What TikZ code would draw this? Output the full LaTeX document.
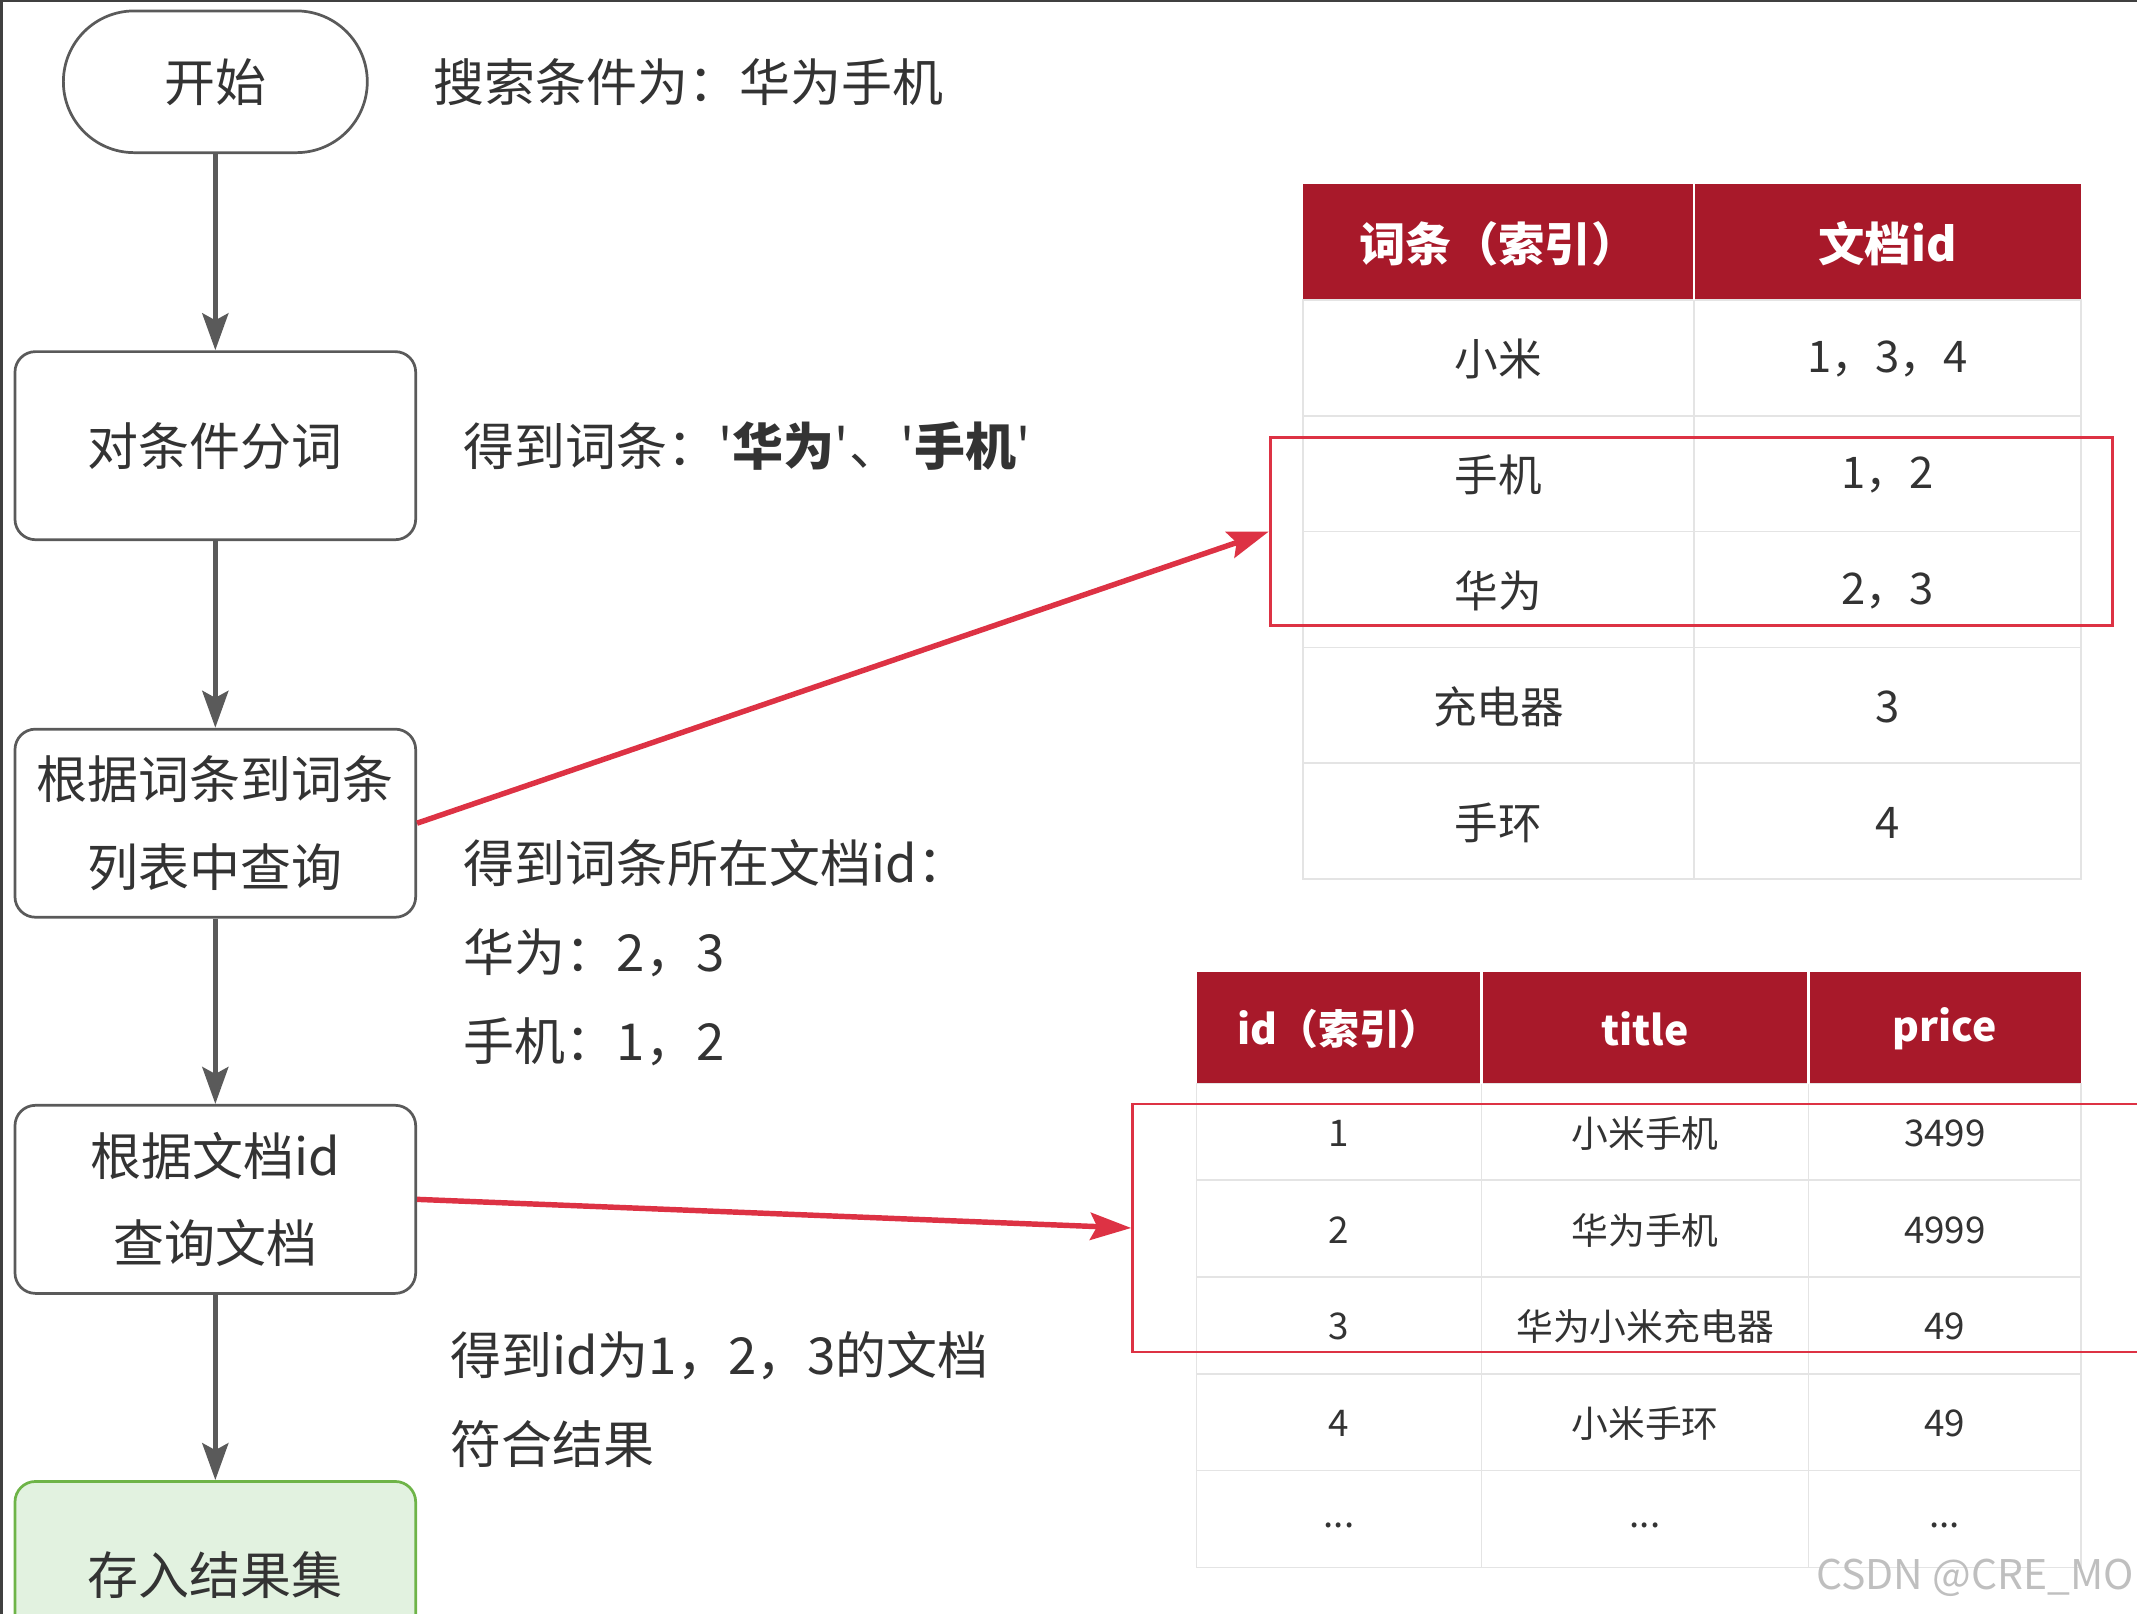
\documentclass[tikz,border=0pt]{standalone}
\usepackage{fontspec}
\setmainfont{Noto Sans CJK SC}[Ligatures=TeXOff]
\usetikzlibrary{arrows.meta,positioning}

\definecolor{hdrred}{RGB}{168,25,42}
\definecolor{hlred}{RGB}{221,50,68}
\definecolor{flowgray}{RGB}{90,90,90}
\definecolor{gridgray}{RGB}{228,228,228}
\definecolor{okfill}{RGB}{226,242,224}
\definecolor{okline}{RGB}{110,180,72}
\definecolor{txt}{RGB}{51,51,51}

\tikzset{
  flowbox/.style={draw=flowgray, line width=1pt, rounded corners=7.5pt, minimum width=147pt,
    minimum height=69pt, align=center, text=txt, font=\fontsize{18.7}{32}\selectfont},
  flowarrow/.style={draw=flowgray, line width=2pt, -{Stealth[length=13.5pt,width=9.5pt,inset=2.5pt]}},
  hlarrow/.style={draw=hlred, line width=2pt, -{Stealth[length=15pt,width=10pt,inset=2.5pt]}},
  hlbox/.style={draw=hlred, line width=1pt, inner sep=0pt},
  note/.style={anchor=west, inner sep=0pt, align=left, text=txt, font=\fontsize{18.7}{32.5}\selectfont},
  grid/.style={draw=gridgray, line width=0.6pt},
  hdr/.style={text=white, font=\bfseries\fontsize{17}{20}\selectfont},
  hdrsmall/.style={text=white, font=\bfseries\fontsize{15}{18}\selectfont},
  cell/.style={text=txt, font=\fontsize{16}{19}\selectfont},
  cellsmall/.style={text=txt, font=\fontsize{13.5}{16}\selectfont}
}

\begin{document}
\begin{tikzpicture}[x=0.5pt,y=-0.5pt]
\useasboundingbox (0,0) rectangle (1568,1184);
\clip (0,0) rectangle (1568,1184);

%rob zaslonske slike
\draw[black!75, line width=1.5pt] (1,0) -- (1,1184);
\draw[black!75, line width=1pt] (0,0.5) -- (1568,0.5);

%diagram poteka
\node[flowbox, rounded corners=26pt, minimum width=111.5pt, minimum height=52pt] (start) at (158,60) {开始};
\node[flowbox, below=72pt of start] (split) {对条件分词};
\node[flowbox, below=68.5pt of split] (lookup) {根据词条到词条\\列表中查询};
\node[flowbox, below=68pt of lookup] (fetch) {根据文档id\\查询文档};
\node[flowbox, below=68pt of fetch, fill=okfill, draw=okline] (collect) {存入结果集};

\draw[flowarrow] (start) -- (split);
\draw[flowarrow] (split) -- (lookup);
\draw[flowarrow] (lookup) -- (fetch);
\draw[flowarrow] (fetch) -- (collect);

%opombe
\node[note] (cond) at (318,60) {搜索条件为：华为手机};
\node[note] (terms) at (340,327) {得到词条：'\textbf{华为}'、'\textbf{手机}'};
\node[note] (idsnote) at (340,699) {得到词条所在文档id：\\华为：2，3\\手机：1，2};
\node[note] (resnote) at (330,1027) {得到id为1，2，3的文档\\符合结果};

%tabela besed
\fill[hdrred] (956,135) rectangle (1527,220);
\draw[grid] (956,220) rectangle (1527,645);
\draw[grid] (1243,220) -- (1243,645);
\foreach \y in {305,390,475,560} \draw[grid] (956,\y) -- (1527,\y);
\draw[white, line width=1pt] (1243,135) -- (1243,220);
\node[hdr] (termhdr) at (1099.5,179) {词条（索引）};
\node[hdr] (idhdr) at (1385,179) {文档id};
\foreach \term/\ids [count=\i] in {小米/{1，3，4}, 手机/{1，2}, 华为/{2，3}, 充电器/3, 手环/4} {
  \node[cell] (term\i) at (1099.5,178.5+85*\i) {\term};
  \node[cell] (ids\i) at (1385,178.5+85*\i) {\ids};
}

%tabela dokumentov
\fill[hdrred] (878,713) rectangle (1527,795);
\draw[grid] (878,795) rectangle (1527,1150);
\draw[grid] (1087,795) -- (1087,1150);
\draw[grid] (1327,795) -- (1327,1150);
\foreach \y in {866,937,1008,1079} \draw[grid] (878,\y) -- (1527,\y);
\draw[white, line width=1pt] (1087,713) -- (1087,795);
\draw[white, line width=1pt] (1327,713) -- (1327,795);
\node[hdrsmall] (dochdr) at (982.5,755) {id（索引）};
\node[hdrsmall] (titlehdr) at (1207,755) {title};
\node[hdrsmall] (pricehdr) at (1427,755) {price};
\foreach \id/\title/\price [count=\i] in {1/小米手机/3499, 2/华为手机/4999, 3/华为小米充电器/49, 4/小米手环/49} {
  \node[cellsmall] (doc\i) at (982.5,760.5+71*\i) {\id};
  \node[cellsmall] (title\i) at (1207,760.5+71*\i) {\title};
  \node[cellsmall] (price\i) at (1427,760.5+71*\i) {\price};
}
\node[cellsmall] (doc5) at (982.5,1119) {...};
\node[cellsmall] (title5) at (1207,1119) {...};
\node[cellsmall] (price5) at (1427,1119) {...};

%oznacbe zadetkov
\node[hlbox, minimum width=309pt, minimum height=69pt] (hl1) at (1241,390) {};
\node[hlbox, minimum width=380pt, minimum height=91pt] (hl2) at (1211,901) {};
\draw[hlarrow] (lookup.east) -- (hl1.west);
\draw[hlarrow] (fetch.east) -- (hl2.west);

%vodni znak
\node[anchor=east, inner sep=0pt, text=black!25, font=\fontsize{15}{18}\selectfont] (mark) at (1566,1158) {CSDN @CRE\_MO};
\end{tikzpicture}
\end{document}
